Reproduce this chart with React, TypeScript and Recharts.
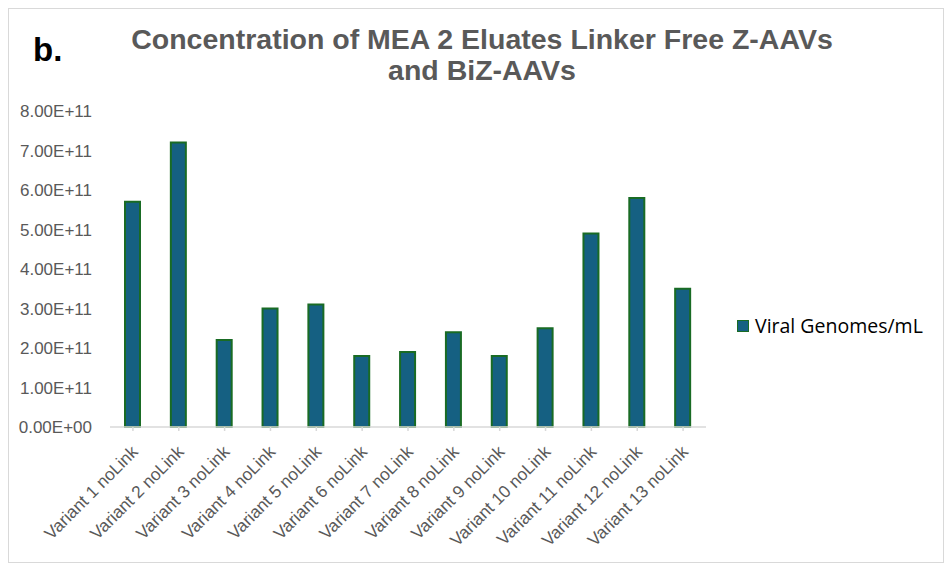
import React from "react";
import { Bar, BarChart, Legend, XAxis, YAxis } from "recharts";

const categories = [
  "Variant 1 noLink",
  "Variant 2 noLink",
  "Variant 3 noLink",
  "Variant 4 noLink",
  "Variant 5 noLink",
  "Variant 6 noLink",
  "Variant 7 noLink",
  "Variant 8 noLink",
  "Variant 9 noLink",
  "Variant 10 noLink",
  "Variant 11 noLink",
  "Variant 12 noLink",
  "Variant 13 noLink",
];

const viralGenomes = [
  5.7e11, 7.2e11, 2.2e11, 3.0e11, 3.1e11, 1.8e11, 1.9e11, 2.4e11, 1.8e11, 2.5e11,
  4.9e11, 5.8e11, 3.5e11,
];

const yTicks = [0, 1e11, 2e11, 3e11, 4e11, 5e11, 6e11, 7e11, 8e11];

const seriesName = "Viral Genomes/mL";
const titleLines = ["Concentration of MEA 2 Eluates Linker Free Z-AAVs", "and BiZ-AAVs"];
const panelLabel = "b.";

const data = categories.map((name, i) => ({ name, value: viralGenomes[i] }));

const W = 936;
const H = 555;
const TEXT = "#595959";
const FILL = "#156082";
const EDGE = "#196B24";
const FONT = "'Liberation Sans', Arial, sans-serif";

// Excel style scientific notation: 8.00E+11, 0.00E+00
function sci(v: number) {
  const [m, e] = v.toExponential(2).split("e");
  const n = parseInt(e, 10);
  const sign = n < 0 ? "-" : "+";
  return `${m}E${sign}${String(Math.abs(n)).padStart(2, "0")}`;
}

function CategoryTick(props: any) {
  const { x, y, payload } = props;
  return (
    <g transform={`translate(${x + 6},${y + 20})`}>
      <text
        x={0}
        y={0}
        textAnchor="end"
        transform="rotate(-45)"
        fill={TEXT}
        fontSize={17.3}
        fontFamily={FONT}
      >
        {payload.value}
      </text>
    </g>
  );
}

function LegendBox(props: any) {
  const item = props.payload?.[0];
  return (
    <div style={{ display: "flex", alignItems: "center", height: 20 }}>
      <span
        style={{
          display: "inline-block",
          width: 10,
          height: 10,
          background: FILL,
          border: `1.5px solid ${EDGE}`,
          marginRight: 6,
        }}
      />
      <span
        style={{
          fontFamily: "'Open Sans', sans-serif",
          fontSize: 19.5,
          color: "#000",
          lineHeight: "20px",
          whiteSpace: "nowrap",
        }}
      >
        {item ? item.value : seriesName}
      </span>
    </div>
  );
}

export default function App() {
  return (
    <div style={{ position: "relative", width: W, height: H }}>
      <BarChart
        width={W}
        height={H}
        data={data}
        margin={{ top: 103, right: 238, left: 0, bottom: 0 }}
        barCategoryGap={0}
      >
        <XAxis
          dataKey="name"
          interval={0}
          height={136}
          tick={<CategoryTick />}
          tickSize={4}
          tickMargin={2}
          stroke="#d9d9d9"
          strokeWidth={1.5}
        />
        <YAxis
          width={102}
          domain={[0, 8e11]}
          ticks={yTicks}
          tickFormatter={sci}
          axisLine={false}
          tickLine={false}
          tickMargin={12}
          tick={{ fill: TEXT, fontSize: 17, fontFamily: FONT }}
        />
        <Legend
          layout="horizontal"
          align="center"
          verticalAlign="middle"
          content={<LegendBox />}
          wrapperStyle={{ position: "absolute", left: 729, top: 308, width: "auto" }}
        />
        <Bar
          dataKey="value"
          name={seriesName}
          fill={FILL}
          stroke={EDGE}
          strokeWidth={2}
          barSize={15}
          isAnimationActive={false}
        />
      </BarChart>
      <svg
        width={W}
        height={H}
        style={{ position: "absolute", left: 0, top: 0, pointerEvents: "none" }}
      >
        <text x={25} y={53} fontSize={33} fontWeight="bold" fill="#000" fontFamily={FONT}>
          {panelLabel}
        </text>
        {titleLines.map((line, i) => (
          <text
            key={line}
            x={474}
            y={41 + i * 31}
            textAnchor="middle"
            fontSize={28.5}
            fontWeight="bold"
            fill={TEXT}
            fontFamily={FONT}
          >
            {line}
          </text>
        ))}
      </svg>
      <div
        style={{
          position: "absolute",
          inset: 0,
          border: "1px solid #d9d9d9",
          boxSizing: "border-box",
          pointerEvents: "none",
        }}
      />
    </div>
  );
}
